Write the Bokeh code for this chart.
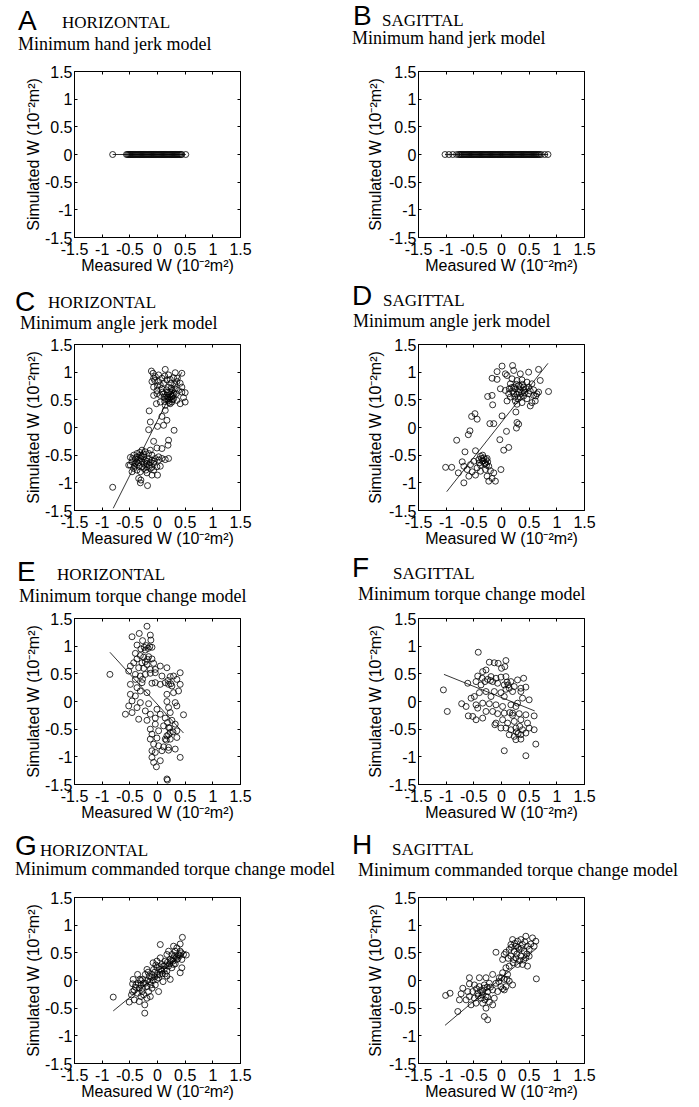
from bokeh.plotting import figure
from bokeh.models import LinearAxis, FixedTicker, Range1d, Div
from bokeh.layouts import column, row
from bokeh.embed import file_html
from bokeh.resources import INLINE

# ---------------- data ----------------
tick_values = [-1.5, -1, -0.5, 0, 0.5, 1, 1.5]
tick_labels = ["-1.5", "-1", "-0.5", "0", "0.5", "1", "1.5"]
panel_letters = ["A", "B", "C", "D", "E", "F", "G", "H"]
panel_planes = ["HORIZONTAL", "SAGITTAL"] * 4
panel_models = ["Minimum hand jerk model", "Minimum hand jerk model",
                "Minimum angle jerk model", "Minimum angle jerk model",
                "Minimum torque change model", "Minimum torque change model",
                "Minimum commanded torque change model", "Minimum commanded torque change model"]
x_title = "Measured W (10⁻²m²)"
y_title = "Simulated W (10⁻²m²)"

A_meas = [-0.81, -0.56, -0.54, -0.52, -0.50, -0.48, -0.46, -0.44, -0.42, -0.40, -0.38, -0.36,
          -0.34, -0.32, -0.30, -0.28, -0.26, -0.24, -0.22, -0.20, -0.18, -0.16, -0.14, -0.12,
          -0.10, -0.08, -0.06, -0.04, -0.02, 0.00, 0.02, 0.04, 0.06, 0.08, 0.10, 0.12, 0.14,
          0.16, 0.18, 0.20, 0.22, 0.24, 0.26, 0.28, 0.30, 0.32, 0.34, 0.36, 0.38, 0.40, 0.42,
          0.44, 0.51]
A_sim = [0.0, 0.0, 0.0, 0.0, 0.0, 0.0, 0.0, 0.0, 0.0, 0.0, 0.0, 0.0,
         0.0, 0.0, 0.0, 0.0, 0.0, 0.0, 0.0, 0.0, 0.0, 0.0, 0.0, 0.0,
         0.0, 0.0, 0.0, 0.0, 0.0, 0.0, 0.0, 0.0, 0.0, 0.0, 0.0, 0.0, 0.0,
         0.0, 0.0, 0.0, 0.0, 0.0, 0.0, 0.0, 0.0, 0.0, 0.0, 0.0, 0.0, 0.0, 0.0,
         0.0, 0.0]
A_fit = [(-0.81, 0.0), (0.51, 0.0)]

B_meas = [-1.02, -0.95, -0.88, -0.81, -0.77, -0.75, -0.73, -0.71, -0.69, -0.67, -0.65, -0.63,
          -0.61, -0.59, -0.57, -0.55, -0.53, -0.51, -0.49, -0.47, -0.45, -0.43, -0.41, -0.39,
          -0.37, -0.35, -0.33, -0.31, -0.29, -0.27, -0.25, -0.23, -0.21, -0.19, -0.17, -0.15,
          -0.13, -0.11, -0.09, -0.07, -0.05, -0.03, -0.01, 0.01, 0.03, 0.05, 0.07, 0.09, 0.11,
          0.13, 0.15, 0.17, 0.19, 0.21, 0.23, 0.25, 0.27, 0.29, 0.31, 0.33, 0.35, 0.37, 0.39,
          0.41, 0.43, 0.45, 0.47, 0.49, 0.51, 0.53, 0.55, 0.57, 0.59, 0.61, 0.63, 0.65, 0.67,
          0.69, 0.72, 0.78, 0.84]
B_sim = [0.0, 0.0, 0.0, 0.0, 0.0, 0.0, 0.0, 0.0, 0.0, 0.0, 0.0, 0.0,
         0.0, 0.0, 0.0, 0.0, 0.0, 0.0, 0.0, 0.0, 0.0, 0.0, 0.0, 0.0,
         0.0, 0.0, 0.0, 0.0, 0.0, 0.0, 0.0, 0.0, 0.0, 0.0, 0.0, 0.0,
         0.0, 0.0, 0.0, 0.0, 0.0, 0.0, 0.0, 0.0, 0.0, 0.0, 0.0, 0.0, 0.0,
         0.0, 0.0, 0.0, 0.0, 0.0, 0.0, 0.0, 0.0, 0.0, 0.0, 0.0, 0.0, 0.0, 0.0,
         0.0, 0.0, 0.0, 0.0, 0.0, 0.0, 0.0, 0.0, 0.0, 0.0, 0.0, 0.0, 0.0, 0.0,
         0.0, 0.0, 0.0, 0.0]
B_fit = [(-1.02, 0.0), (0.84, 0.0)]

C_points = [(0.14, 1.05), (0.32, 0.99), (0.44, 0.98), (-0.11, 1.02), (-0.08, 0.98), (-0.04, 0.92),
            (0.02, 0.95), (0.08, 0.89), (0.17, 0.86), (0.23, 0.87), (0.29, 0.90), (0.35, 0.83),
            (0.41, 0.80), (-0.10, 0.83), (-0.07, 0.73), (-0.01, 0.67), (0.05, 0.77), (0.11, 0.80),
            (0.20, 0.73), (0.26, 0.67), (0.32, 0.70), (0.38, 0.67), (0.44, 0.64), (0.50, 0.63),
            (0.47, 0.54), (0.50, 0.46), (0.41, 0.43), (0.35, 0.49), (0.29, 0.52), (0.23, 0.55),
            (0.20, 0.49), (0.17, 0.58), (0.11, 0.61), (0.05, 0.58), (-0.01, 0.61), (-0.07, 0.58),
            (-0.02, 0.43), (0.05, 0.46), (0.23, 0.43), (0.14, 0.40), (0.26, 0.46), (0.22, 0.52),
            (0.18, 0.64), (0.28, 0.58), (0.34, 0.61), (0.08, 0.70), (0.02, 0.83), (-0.07, 0.89),
            (0.44, 0.73), (0.36, 0.89),
            (0.15, 0.52), (0.19, 0.55), (0.24, 0.60), (0.27, 0.50), (0.21, 0.45), (0.13, 0.47),
            (0.16, 0.68), (0.25, 0.71), (0.30, 0.62), (0.12, 0.55), (0.09, 0.64), (0.31, 0.78),
            (0.24, 0.80), (0.00, 0.75), (-0.05, 0.85), (0.13, 0.93), (0.20, 0.95), (0.26, 0.57),
            (0.22, 0.64), (0.18, 0.51),
            (-0.15, 0.30), (0.14, 0.31), (0.08, 0.20), (-0.13, 0.10), (0.17, 0.13), (0.00, 0.02),
            (-0.16, -0.04), (0.11, 0.04), (0.30, -0.05), (-0.07, -0.25), (0.20, -0.23), (0.19, -0.32),
            (0.08, -0.38), (-0.01, -0.37),
            (-0.28, -0.41), (-0.22, -0.44), (-0.16, -0.47), (-0.10, -0.50), (-0.31, -0.50), (-0.37, -0.53),
            (-0.43, -0.50), (-0.49, -0.54), (-0.46, -0.62), (-0.52, -0.68), (-0.40, -0.65), (-0.34, -0.59),
            (-0.28, -0.62), (-0.22, -0.59), (-0.16, -0.56), (-0.10, -0.59), (-0.04, -0.56), (0.02, -0.59),
            (0.08, -0.56), (0.14, -0.58), (0.20, -0.56), (-0.43, -0.74), (-0.37, -0.77), (-0.31, -0.80),
            (-0.25, -0.74), (-0.19, -0.71), (-0.13, -0.74), (-0.07, -0.77), (-0.01, -0.71), (0.05, -0.70),
            (-0.10, -0.86), (0.00, -0.86), (-0.19, -0.82), (-0.46, -0.80), (-0.49, -0.68), (-0.34, -0.92),
            (-0.30, -0.95), (-0.31, -1.00), (-0.18, -1.05), (0.02, -0.53), (-0.13, -0.41), (-0.25, -0.53),
            (-0.37, -0.47), (-0.20, -0.65), (-0.07, -0.65), (-0.81, -1.08),
            (-0.40, -0.57), (-0.35, -0.64), (-0.30, -0.56), (-0.24, -0.66), (-0.27, -0.71), (-0.33, -0.70),
            (-0.41, -0.70), (-0.45, -0.56), (-0.19, -0.61), (-0.13, -0.63), (-0.25, -0.48), (-0.32, -0.45),
            (-0.38, -0.62), (-0.29, -0.52), (-0.21, -0.77), (-0.15, -0.68), (-0.06, -0.61), (-0.10, -0.72)]
C_fit = [(-0.80, -1.46), (0.44, 1.00)]

D_points = [(0.20, 1.12), (0.01, 1.11), (-0.08, 1.01), (-0.17, 0.89), (-0.08, 0.87), (0.07, 0.97),
            (0.10, 0.94), (0.22, 1.03), (0.34, 0.97), (0.49, 1.00), (0.67, 1.05), (0.70, 0.85),
            (0.85, 0.65), (0.19, 0.88), (0.28, 0.85), (0.37, 0.86), (0.46, 0.82), (0.16, 0.79),
            (0.22, 0.73), (0.31, 0.76), (0.40, 0.73), (0.49, 0.73), (0.55, 0.79), (-0.02, 0.70),
            (0.07, 0.67), (0.13, 0.61), (0.22, 0.61), (0.31, 0.64), (0.40, 0.67), (0.49, 0.61),
            (0.58, 0.58), (0.64, 0.61), (0.67, 0.64), (0.55, 0.45), (0.61, 0.48), (0.46, 0.52),
            (0.34, 0.55), (0.25, 0.48), (0.16, 0.55), (0.10, 0.48), (0.37, 0.45), (0.28, 0.42),
            (0.52, 0.39),
            (0.20, 0.66), (0.25, 0.70), (0.28, 0.60), (0.33, 0.68), (0.36, 0.62), (0.42, 0.63),
            (0.45, 0.70), (0.38, 0.78), (0.27, 0.78), (0.18, 0.72), (0.24, 0.55), (0.30, 0.52),
            (0.40, 0.57), (0.52, 0.66), (0.58, 0.68), (0.34, 0.74), (0.14, 0.70), (0.62, 0.57),
            (-0.25, 0.56), (-0.17, 0.58), (-0.16, 0.41), (0.01, 0.21), (-0.48, 0.25), (-0.54, 0.20),
            (-0.44, 0.15), (-0.21, 0.07), (-0.14, 0.07), (0.26, 0.28), (0.28, 0.09), (0.31, 0.06),
            (0.27, -0.01), (0.09, -0.07), (-0.57, -0.06), (-0.60, -0.13), (-0.81, -0.23), (-0.03, -0.22),
            (0.13, -0.36), (0.04, -0.41), (-0.66, -0.44), (-0.47, -0.42),
            (-0.38, -0.52), (-0.32, -0.55), (-0.26, -0.56), (-0.41, -0.58), (-0.35, -0.61), (-0.29, -0.64),
            (-0.50, -0.61), (-0.56, -0.67), (-0.71, -0.62), (-0.68, -0.70), (-1.01, -0.72), (-0.90, -0.72),
            (-0.78, -0.82), (-0.62, -0.76), (-0.53, -0.80), (-0.44, -0.73), (-0.38, -0.79), (-0.29, -0.76),
            (-0.20, -0.78), (-0.14, -0.82), (-0.01, -0.76), (-0.59, -0.88), (-0.47, -0.86), (-0.26, -0.88),
            (-0.17, -0.92), (-0.11, -0.97), (-0.23, -0.97), (-0.68, -1.00), (-0.38, -0.68), (-0.23, -0.70),
            (-0.33, -0.60), (-0.28, -0.58), (-0.36, -0.56), (-0.30, -0.66), (-0.25, -0.62), (-0.40, -0.64),
            (-0.34, -0.50), (-0.27, -0.68)]
D_fit = [(-0.99, -1.16), (0.84, 1.16)]

E_points = [(-0.19, 1.36), (-0.46, 1.17), (-0.33, 1.23), (-0.13, 1.20), (-0.27, 1.10), (-0.12, 1.11),
            (-0.37, 1.02), (-0.20, 1.01), (-0.14, 0.99), (-0.10, 0.98), (-0.30, 0.95), (-0.22, 0.93),
            (-0.40, 0.87), (-0.31, 0.83), (-0.25, 0.80), (-0.16, 0.81), (-0.10, 0.77), (-0.37, 0.77),
            (-0.43, 0.70), (-0.28, 0.70), (-0.19, 0.67), (-0.07, 0.69), (-0.49, 0.64), (-0.34, 0.61),
            (-0.25, 0.60), (-0.13, 0.58), (-0.04, 0.58), (0.05, 0.64), (0.17, 0.61), (-0.86, 0.49),
            (-0.52, 0.55), (-0.40, 0.49), (-0.31, 0.46), (-0.22, 0.49), (-0.13, 0.51), (-0.04, 0.52),
            (0.08, 0.46), (0.23, 0.45), (0.29, 0.46), (0.41, 0.52), (0.35, 0.40), (-0.40, 0.40),
            (-0.28, 0.34), (-0.10, 0.33), (-0.04, 0.34), (0.05, 0.31), (0.14, 0.34), (0.20, 0.31),
            (0.26, 0.28), (0.41, 0.31), (-0.49, 0.31), (-0.37, 0.25), (-0.31, 0.19), (-0.19, 0.16),
            (-0.49, 0.13), (-0.40, 0.10), (0.29, 0.16), (0.38, 0.19), (0.17, 0.13), (-0.46, 0.01),
            (-0.31, -0.02), (-0.16, -0.04), (0.17, 0.00), (0.32, -0.02), (-0.52, -0.08), (-0.37, -0.11),
            (-0.01, -0.14), (0.20, -0.11), (0.35, -0.08), (-0.58, -0.23), (-0.46, -0.20), (-0.22, -0.17),
            (-0.13, -0.23), (0.05, -0.23), (0.23, -0.20), (0.47, -0.24), (-0.34, -0.32), (-0.19, -0.34),
            (-0.04, -0.30), (0.14, -0.30), (0.26, -0.34), (-0.04, -0.41), (0.11, -0.44), (0.20, -0.47),
            (0.32, -0.41), (-0.13, -0.50), (0.02, -0.53), (0.23, -0.56), (0.35, -0.53), (-0.10, -0.59),
            (0.17, -0.62), (-0.13, -0.68), (-0.01, -0.66), (0.14, -0.68), (0.23, -0.68), (0.35, -0.65),
            (-0.07, -0.77), (0.02, -0.80), (0.11, -0.82), (0.20, -0.83), (-0.10, -0.89), (-0.04, -0.92),
            (0.08, -0.89), (0.20, -0.88), (0.32, -0.86), (0.41, -1.01), (-0.10, -1.01), (-0.07, -1.10),
            (-0.02, -1.18), (0.05, -1.07), (0.17, -1.40), (0.18, -1.42),
            (-0.22, 0.72), (-0.18, 0.76), (-0.24, 0.98), (-0.17, 0.96), (0.20, -0.60), (0.22, -0.48),
            (0.18, -0.38), (0.24, 0.32), (0.19, 0.38), (-0.27, 0.40), (0.16, -0.70), (0.28, -0.55)]
E_fit = [(-0.86, 0.89), (0.47, -0.57)]

F_points = [(-0.42, 0.89), (-0.22, 0.71), (-0.13, 0.70), (-0.06, 0.69), (0.08, 0.74), (0.06, 0.63),
            (0.00, 0.60), (-0.34, 0.54), (-0.28, 0.57), (-0.43, 0.46), (-0.19, 0.45), (-0.10, 0.42),
            (-0.01, 0.44), (0.08, 0.45), (0.17, 0.36), (0.29, 0.39), (0.40, 0.42), (-0.61, 0.33),
            (-0.46, 0.36), (-0.37, 0.30), (-0.16, 0.36), (-0.07, 0.33), (0.05, 0.30), (0.14, 0.24),
            (0.23, 0.27), (0.35, 0.24), (0.44, 0.26), (-1.05, 0.21), (-0.40, 0.16), (-0.28, 0.18),
            (-0.13, 0.18), (-0.01, 0.16), (0.20, 0.18), (0.35, 0.18), (-0.49, 0.09), (-0.19, 0.09),
            (0.05, 0.09), (0.38, 0.06), (0.50, 0.03), (-0.55, 0.06), (-0.72, -0.04), (-0.64, -0.09),
            (-0.46, -0.06), (-0.34, -0.03), (-0.22, -0.04), (-0.10, -0.06), (0.02, -0.09), (0.17, -0.06),
            (0.26, -0.09), (0.29, -0.03), (-0.98, -0.18), (-0.43, -0.12), (-0.28, -0.18), (-0.16, -0.18),
            (-0.07, -0.22), (0.05, -0.21), (0.20, -0.21), (0.32, -0.22), (0.44, -0.24), (0.59, -0.26),
            (-0.60, -0.26), (-0.52, -0.27), (-0.46, -0.33), (-0.34, -0.30), (-0.10, -0.39), (0.02, -0.33),
            (0.11, -0.39), (0.23, -0.36), (0.35, -0.33), (0.47, -0.39), (0.08, -0.48), (0.17, -0.51),
            (0.26, -0.48), (0.38, -0.51), (0.50, -0.48), (0.59, -0.51), (0.14, -0.60), (0.23, -0.63),
            (0.35, -0.60), (0.44, -0.57), (0.26, -0.69), (0.35, -0.68), (0.62, -0.77), (0.05, -0.89),
            (0.44, -0.98), (-0.12, -0.42), (-0.01, -0.48),
            (-0.30, 0.36), (-0.25, 0.40), (-0.20, 0.38), (0.08, 0.22), (0.12, 0.30), (0.15, -0.20),
            (0.20, -0.25), (0.27, -0.55), (0.30, -0.58), (0.33, -0.45), (0.10, 0.35), (-0.35, 0.42)]
F_fit = [(-1.04, 0.49), (0.60, -0.17)]

G_points = [(-0.80, -0.30), (0.45, 0.78), (0.05, 0.65), (-0.23, -0.59), (-0.23, -0.44), (0.41, 0.14),
            (0.44, 0.23), (-0.51, -0.39), (-0.47, -0.26), (-0.45, -0.06), (-0.39, -0.08), (-0.42, -0.35),
            (-0.36, -0.23), (-0.33, -0.38), (-0.30, -0.29), (-0.36, 0.11), (-0.32, 0.02), (-0.27, -0.14),
            (-0.25, -0.26), (-0.19, -0.32), (-0.13, -0.29), (-0.10, -0.14), (-0.14, -0.02), (-0.25, -0.05),
            (-0.22, 0.11), (-0.19, 0.20), (-0.10, 0.11), (-0.07, 0.20), (-0.08, 0.32), (-0.01, 0.23),
            (0.04, 0.11), (-0.01, 0.02), (0.08, 0.17), (0.11, 0.26), (0.14, 0.35), (0.17, 0.17),
            (0.20, 0.26), (0.23, 0.38), (0.26, 0.47), (0.29, 0.62), (0.32, 0.53), (0.35, 0.38),
            (0.38, 0.47), (0.41, 0.53), (0.47, 0.47), (0.52, 0.46), (0.44, 0.38), (0.29, 0.29),
            (0.23, 0.02), (0.17, 0.08), (0.10, -0.02), (-0.04, -0.08), (0.02, -0.20), (-0.16, -0.20),
            (-0.19, -0.11), (-0.30, -0.08), (-0.33, -0.14), (-0.42, -0.18), (-0.01, 0.35), (0.05, 0.41),
            (0.17, 0.47), (0.08, 0.29), (-0.05, 0.07), (-0.11, 0.05), (-0.27, 0.02), (-0.44, 0.02),
            (0.29, 0.41), (0.20, 0.53), (0.35, 0.59), (0.41, 0.66), (0.26, 0.23), (0.14, 0.12),
            (-0.35, -0.05), (-0.30, 0.00), (-0.28, -0.20), (-0.22, -0.05), (-0.18, 0.00), (-0.15, 0.08),
            (-0.12, -0.08), (-0.08, 0.00), (-0.05, 0.15), (0.00, 0.10), (0.03, 0.25), (0.06, 0.20),
            (0.09, 0.12), (0.12, 0.20), (0.15, 0.28), (0.18, 0.33), (0.22, 0.30), (0.25, 0.36),
            (0.28, 0.35), (0.31, 0.45), (0.34, 0.42), (0.37, 0.40), (0.40, 0.45), (0.43, 0.50),
            (0.32, 0.30), (0.02, 0.05), (-0.03, 0.28), (-0.17, 0.15), (-0.40, -0.12), (-0.45, -0.20)]
G_fit = [(-0.80, -0.55), (0.52, 0.53)]

H_points = [(0.44, 0.80), (0.56, 0.77), (0.62, 0.71), (0.59, 0.62), (0.20, 0.74), (0.29, 0.71),
            (0.35, 0.74), (0.17, 0.65), (0.26, 0.62), (0.38, 0.65), (0.47, 0.62), (0.14, 0.56),
            (0.23, 0.53), (0.32, 0.56), (0.41, 0.53), (0.50, 0.56), (0.08, 0.51), (0.17, 0.44),
            (0.26, 0.41), (0.35, 0.44), (0.44, 0.41), (0.50, 0.44), (0.21, 0.32), (0.29, 0.29),
            (0.38, 0.29), (0.47, 0.26), (0.14, 0.26), (0.05, 0.47), (-0.10, 0.51), (0.02, 0.38),
            (0.63, 0.03),
            (0.18, 0.60), (0.24, 0.67), (0.30, 0.60), (0.36, 0.58), (0.42, 0.70), (0.28, 0.48),
            (0.33, 0.36), (0.40, 0.37), (0.22, 0.38), (0.12, 0.40), (0.46, 0.48), (0.53, 0.66),
            (0.08, 0.23), (0.02, 0.14), (0.11, 0.11), (-0.04, 0.05), (0.05, 0.02), (0.14, -0.01),
            (0.20, -0.08), (0.08, -0.11), (-0.01, -0.11), (-0.10, -0.05), (-0.16, 0.11), (-0.28, 0.05),
            (-0.40, 0.05), (-0.22, -0.05), (-0.31, -0.08), (-0.40, -0.11), (-0.49, -0.08), (-0.58, -0.06),
            (-0.70, -0.14), (-0.61, -0.20), (-0.52, -0.20), (-0.43, -0.23), (-0.34, -0.20), (-0.25, -0.20),
            (-0.16, -0.17), (-0.07, -0.20), (0.05, -0.17), (-0.28, -0.29), (-0.37, -0.32), (-0.49, -0.32),
            (-0.58, -0.29), (-0.64, -0.35), (-0.55, -0.44), (-0.46, -0.41), (-0.34, -0.41), (-0.22, -0.39),
            (-0.13, -0.32), (-0.16, -0.44), (-0.28, -0.50), (-0.76, -0.35), (-0.73, -0.24), (-0.79, -0.56),
            (-0.31, -0.65), (-0.25, -0.71), (-1.01, -0.27), (-0.93, -0.23), (-0.58, 0.05),
            (-0.45, -0.15), (-0.38, -0.18), (-0.32, -0.14), (-0.26, -0.12), (-0.20, -0.12), (-0.35, -0.26),
            (-0.42, -0.28), (-0.25, -0.30), (-0.05, -0.02), (0.00, 0.05), (0.10, 0.02), (0.02, -0.15),
            (-0.30, -0.35)]
H_fit = [(-1.02, -0.81), (0.63, 0.58)]

# ---------------- layout (page pixels) ----------------
FRAME = 166
col_left = [0, 350]
col_width = [350, 349]
col_border_left = [74, 68]
col_ylabel_standoff = [0, 2]
row_top = [0, 283, 553, 831]
row_frame_top = [71, 344, 618, 897]
row_border_bottom = [46, 43, 47, 42]
FIG_TOP = 8

# text anchors per panel (page px): letter x, letter baseline, plane x, plane baseline, model x, model baseline
text_pos = [(18, 31, 62, 29, 18, 51), (353, 26, 382, 27, 352, 45),
            (15, 312, 48, 309, 20, 330), (352, 306, 383, 307, 353, 328),
            (17, 582, 57, 581, 19, 603), (352, 578, 393, 580, 358, 601),
            (15, 856, 40, 857, 15, 876), (352, 855, 392, 856, 358, 877)]

series = [
    (list(A_meas), list(A_sim), A_fit),
    (list(B_meas), list(B_sim), B_fit),
    ([p[0] for p in C_points], [p[1] for p in C_points], C_fit),
    ([p[0] for p in D_points], [p[1] for p in D_points], D_fit),
    ([p[0] for p in E_points], [p[1] for p in E_points], E_fit),
    ([p[0] for p in F_points], [p[1] for p in F_points], F_fit),
    ([p[0] for p in G_points], [p[1] for p in G_points], G_fit),
    ([p[0] for p in H_points], [p[1] for p in H_points], H_fit),
]

overrides = {v: s for v, s in zip(tick_values, tick_labels)}
blank = {v: "" for v in tick_values}
SANS = "Liberation Sans"
SERIF = "Liberation Serif"
LH = 0.85


def span(text, left, baseline, family, size, ascent, descent):
    k = (LH - (ascent + descent)) / 2 + ascent
    top = baseline - k * size
    return (f'<span style="position:absolute;left:{left}px;top:{top:.1f}px;'
            f'font-family:\'{family}\';font-size:{size}px;line-height:{LH};white-space:nowrap;'
            f'color:black;">{text}</span>')


def make_cell(i):
    r, c = divmod(i, 2)
    div_h = row_frame_top[r] - row_top[r] - FIG_TOP
    lx, ly, px_, py_, mx, my = text_pos[i]
    ox, oy = col_left[c], row_top[r]
    html = (f'<div style="position:relative;width:{col_width[c]}px;height:{div_h}px;">'
            + span(panel_letters[i], lx - ox, ly - oy, SANS, 28, 0.905, 0.212)
            + span(panel_planes[i], px_ - ox, py_ - oy, SERIF, 17, 0.891, 0.216)
            + span(panel_models[i], mx - ox, my - oy, SERIF, 18, 0.891, 0.216)
            + '</div>')
    header = Div(text=html, width=col_width[c], height=div_h, margin=0)

    p = figure(frame_width=FRAME, frame_height=FRAME,
               x_range=Range1d(-1.5, 1.5), y_range=Range1d(-1.5, 1.5),
               output_backend="svg", toolbar_location=None,
               min_border_left=col_border_left[c],
               min_border_right=col_width[c] - col_border_left[c] - FRAME,
               min_border_top=FIG_TOP,
               min_border_bottom=row_border_bottom[r],
               background_fill_color="white", border_fill_color="white", margin=0)
    p.xgrid.visible = False
    p.ygrid.visible = False
    p.outline_line_color = "black"
    p.outline_line_width = 1
    for ax in (p.xaxis[0], p.yaxis[0]):
        ax.ticker = FixedTicker(ticks=tick_values)
        ax.major_label_overrides = overrides
        ax.major_tick_in = 3
        ax.major_tick_out = 0
        ax.minor_tick_line_color = None
        ax.axis_line_color = "black"
        ax.major_label_text_font = SANS
        ax.major_label_text_font_size = "16px"
        ax.major_label_text_color = "black"
        ax.axis_label_text_font = SANS
        ax.axis_label_text_font_size = "16px"
        ax.axis_label_text_font_style = "normal"
        ax.axis_label_text_color = "black"
    p.xaxis[0].major_label_standoff = 5
    p.xaxis[0].axis_label = x_title
    p.xaxis[0].axis_label_standoff = -1
    p.yaxis[0].major_label_standoff = 2
    p.yaxis[0].axis_label = y_title
    p.yaxis[0].axis_label_standoff = col_ylabel_standoff[c]
    for loc in ("above", "right"):
        ax = LinearAxis(ticker=FixedTicker(ticks=tick_values), major_label_overrides=blank,
                        major_tick_in=3, major_tick_out=0, minor_tick_line_color=None,
                        axis_line_color=None, major_label_text_font_size="1px",
                        major_label_standoff=0)
        p.add_layout(ax, loc)

    xs, ys, fit = series[i]
    p.line([f[0] for f in fit], [f[1] for f in fit], line_color="black", line_width=0.8)
    p.scatter(xs, ys, marker="circle", size=6, fill_color=None,
              line_color="black", line_width=0.8)
    return column(header, p, spacing=0, margin=0)


cells = [make_cell(i) for i in range(8)]
layout = column(row(cells[0], cells[1], spacing=0), row(cells[2], cells[3], spacing=0),
                row(cells[4], cells[5], spacing=0), row(cells[6], cells[7], spacing=0),
                spacing=0)

open("out.html", "w").write(file_html(layout, INLINE))
